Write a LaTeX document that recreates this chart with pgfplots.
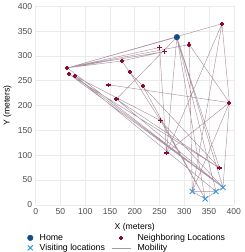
\documentclass[border=0pt]{standalone}
\usepackage{pgfplots}
\pgfplotsset{compat=1.18}
\usepackage{pgfplotstable}
\usepackage{fontspec}
\setmainfont{Liberation Sans}
\definecolor{homec}{HTML}{114D86}
\definecolor{neighc}{HTML}{8C0A30}
\definecolor{visc}{HTML}{2E9AE0}
\definecolor{mobc}{HTML}{5A2A45}
\definecolor{gridc}{HTML}{EBEBEB}
\definecolor{tickc}{HTML}{4D4D4D}

\pgfplotstableread{
x y
285 338
}\home
\pgfplotstableread{
x y
376 365
250 317
260 309
310 323
64 276
68 263
80 259
174 290
190 267
147 242
216 240
163 213
391 206
252 170
264 105
371 74
}\neigh
\pgfplotstableread{
x y
316 27
342 12
364 27
378 35
}\visit
\pgfplotstableread{
x y
64 276
376 365
nan nan
64 276
285 338
nan nan
64 276
250 317
nan nan
64 276
260 309
nan nan
64 276
310 323
nan nan
64 276
174 290
260 309
nan nan
174 290
190 267
252 170
nan nan
147 242
391 206
nan nan
163 213
285 338
nan nan
163 213
378 35
nan nan
163 213
371 74
nan nan
68 263
378 35
nan nan
68 263
371 74
nan nan
80 259
378 35
nan nan
80 259
252 170
nan nan
64 276
378 35
nan nan
80 259
364 27
nan nan
285 338
264 105
nan nan
285 338
342 12
nan nan
285 338
364 27
nan nan
285 338
378 35
nan nan
285 338
371 74
nan nan
376 365
264 105
nan nan
376 365
391 206
378 35
nan nan
310 323
391 206
264 105
nan nan
391 206
316 27
nan nan
316 27
342 12
364 27
378 35
nan nan
316 27
364 27
nan nan
316 27
310 323
nan nan
342 12
252 170
nan nan
264 105
250 317
nan nan
252 170
378 35
nan nan
216 240
342 12
nan nan
376 365
316 27
nan nan
190 267
371 74
}\mob

\begin{document}
\begin{tikzpicture}
\begin{axis}[
  scale only axis,
  width=198.4pt, height=198.7pt,
  xmin=0, xmax=400, ymin=0, ymax=400,
  xtick={0,50,...,400}, ytick={0,50,...,400},
  axis line style={draw=none},
  major tick length=0pt,
  grid=major,
  major grid style={gridc, line width=0.6pt},
  tick label style={font=\fontsize{8.6}{10}\selectfont, text=tickc},
  /pgf/number format/assume math mode=true,
  xlabel={X (meters)}, ylabel={Y (meters)},
  label style={font=\fontsize{8.6}{10}\selectfont},
  xlabel style={at={(axis description cs:0.5,-0.111)},anchor=center},
  ylabel style={at={(axis description cs:-0.143,0.5)},anchor=center},
  clip=false,
  unbounded coords=jump,
  legend columns=2,
  legend cell align=left,
  legend style={
    at={(axis description cs:0,0)}, anchor=north west,
    xshift=-8.4pt, yshift=-28.7pt,
    draw=none, fill=none, inner sep=0pt,
    font=\fontsize{8.8}{10}\selectfont,
    nodes={inner sep=0pt, text height=6.5pt, text depth=1.8pt},
    row sep=1.7pt, column sep=6.6pt,
  },
  legend image code/.code={\draw[mark repeat=2,mark phase=2,#1] plot coordinates {(0pt,0pt)(9.5pt,0pt)(19pt,0pt)};},
]
\addplot[forget plot, mobc, opacity=0.5, line width=0.45pt] table {\mob};
\addplot[only marks, mark=*, mark size=2.8pt, color=homec] table {\home};
\addlegendentry{Home}
\addplot[only marks, mark=+, mark size=2.1pt, color=neighc, mark options={line width=1.9pt}] table {\neigh};
\addlegendentry{Neighboring Locations}
\addplot[only marks, mark=x, mark size=3.6pt, color=visc, mark options={line width=0.9pt}] table {\visit};
\addlegendentry{Visiting locations\hspace{4pt}}
\addlegendimage{mobc, opacity=0.5, line width=0.45pt}
\addlegendentry{Mobility}
\end{axis}
\end{tikzpicture}
\end{document}
